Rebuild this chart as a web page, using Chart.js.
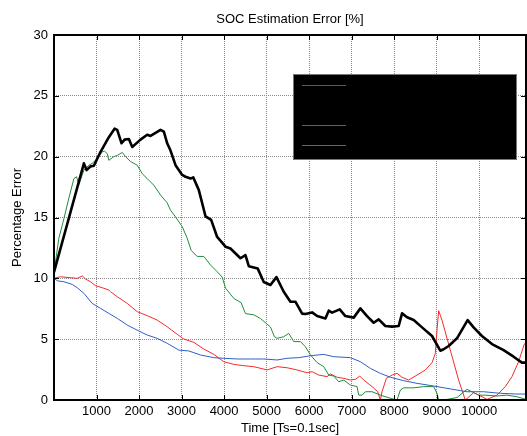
<!DOCTYPE html>
<html>
<head>
<meta charset="utf-8">
<script src="https://cdn.jsdelivr.net/npm/chart.js@4.4.1/dist/chart.umd.min.js"></script>
<style>
  html, body { margin: 0; padding: 0; background: #fff; }
</style>
</head>
<body>
<canvas id="socChart" width="527" height="436"></canvas>
<script>
// tick values
var xTicks = [1000, 2000, 3000, 4000, 5000, 6000, 7000, 8000, 9000, 10000];
var yTicks = [0, 5, 10, 15, 20, 25, 30];

// series names and colours (legend order)
var seriesNames = ['Error 1', 'Error 2', 'Error 3', 'Error 4'];
var seriesColors = ['#2f5fc4', '#000000', '#1f8c3b', '#f52a2a'];

// [time, error %]
var blueErr = [[0,10.0],[78,9.8],[233,9.72],[429,9.5],[546,9.23],[703,8.77],[899,7.94],[1095,7.53],[1290,7.12],[1487,6.71],[1722,6.16],[1995,5.67],[2192,5.34],[2427,5.07],[2662,4.66],[2936,4.1],[3171,4.03],[3445,3.7],[3758,3.48],[3993,3.43],[4307,3.37],[4620,3.37],[4933,3.37],[5247,3.29],[5482,3.43],[5755,3.48],[6030,3.64],[6343,3.75],[6578,3.56],[6970,3.48],[7205,3.15],[7440,2.6],[7675,2.19],[7910,1.87],[8223,1.59],[8537,1.37],[8929,1.15],[9242,0.96],[9555,0.77],[9712,0.68],[10103,0.68],[10495,0.55],[10887,0.49],[11100,0.49]];

var blackErr = [[0,10.5],[703,19.45],[766,18.9],[860,19.2],[938,19.25],[1095,20.4],[1290,21.6],[1424,22.3],[1487,22.2],[1589,21.1],[1660,21.4],[1761,21.45],[1840,20.8],[2035,21.4],[2192,21.8],[2270,21.7],[2505,22.2],[2583,22.05],[2662,21.1],[2740,20.5],[2858,19.3],[3015,18.5],[3093,18.35],[3210,18.2],[3274,18.3],[3406,17.25],[3563,15.1],[3696,14.8],[3837,13.4],[4033,12.6],[4150,12.45],[4385,11.65],[4503,11.9],[4581,11.0],[4792,10.8],[4933,9.7],[5090,9.45],[5231,10.1],[5403,8.9],[5560,8.08],[5677,8.08],[5835,7.1],[5913,7.07],[6070,7.2],[6188,6.9],[6383,6.7],[6461,7.34],[6540,7.18],[6719,7.45],[6853,6.9],[7048,6.77],[7205,7.53],[7362,6.9],[7518,6.35],[7636,6.63],[7793,6.08],[7950,6.03],[8106,6.08],[8185,7.12],[8303,6.8],[8459,6.57],[8655,5.97],[8890,5.26],[9085,4.05],[9163,4.17],[9281,4.44],[9477,5.07],[9727,6.57],[9868,5.97],[10064,5.26],[10300,4.6],[10573,4.1],[10808,3.56],[11004,3.07],[11100,3.07]];

var greenErr = [[0,10.5],[115,13.3],[233,14.9],[350,16.6],[468,18.2],[531,18.35],[585,17.7],[625,18.1],[703,18.9],[820,19.3],[899,19.45],[1017,19.85],[1134,20.4],[1189,20.45],[1252,20.25],[1290,19.7],[1408,20.0],[1487,20.1],[1605,20.35],[1683,20.0],[1800,19.6],[1957,19.3],[2075,18.6],[2192,18.2],[2348,17.65],[2505,16.85],[2662,16.2],[2740,15.6],[2858,15.05],[3015,14.25],[3132,13.3],[3226,12.3],[3367,11.8],[3523,11.8],[3680,11.1],[3837,10.55],[3955,10.1],[4033,9.2],[4228,8.35],[4400,8.0],[4503,7.1],[4698,7.0],[4855,6.7],[5090,6.0],[5184,5.2],[5247,5.07],[5403,5.2],[5520,5.48],[5638,4.8],[5795,4.8],[5913,4.38],[6030,3.7],[6188,3.07],[6343,2.74],[6461,2.05],[6578,1.97],[6696,1.5],[6813,1.64],[6970,1.23],[7127,1.1],[7166,0.4],[7245,0.4],[7323,0.68],[7480,0.68],[7675,0.4],[7910,0.14],[8067,0],[8145,0.82],[8223,1.0],[8459,1.0],[8694,1.1],[8929,1.1],[9007,0.55],[9046,0],[9242,0.05],[9477,0.2],[9712,0.88],[9830,0.68],[9986,0.4],[10143,0.4],[10418,0.33],[10652,0.4],[10887,0.27],[11100,0.05]];

var redErr = [[0,10.0],[155,10.13],[390,10.05],[546,10.0],[665,10.2],[742,9.94],[860,9.72],[978,9.39],[1134,9.23],[1290,9.04],[1330,8.9],[1487,8.49],[1722,7.94],[1957,7.26],[2192,6.93],[2427,6.57],[2662,6.02],[2897,5.4],[3053,5.01],[3288,4.74],[3523,4.19],[3758,3.75],[3993,3.15],[4228,2.93],[4463,2.82],[4698,2.74],[5012,2.47],[5247,2.74],[5482,2.65],[5717,2.47],[5952,2.24],[6070,2.33],[6226,2.05],[6422,1.92],[6500,2.14],[6657,1.87],[6813,1.78],[6970,1.64],[7088,1.7],[7189,1.97],[7283,1.64],[7480,1.1],[7612,0.68],[7675,0],[7714,0.68],[7816,1.78],[7950,2.05],[8067,2.19],[8185,1.87],[8341,1.64],[8537,2.05],[8733,2.47],[8890,3.07],[8968,3.83],[9007,5.75],[9046,7.34],[9124,6.57],[9320,4.1],[9515,1.64],[9672,0],[9868,0.6],[10064,0.27],[10182,0.05],[10418,0.4],[10613,1.1],[10770,1.92],[10926,3.15],[11060,4.6],[11100,4.7]];

function pts(arr) {
    return arr.map(function (p) { return { x: p[0], y: p[1] }; });
}

Chart.defaults.font.family = '"Liberation Sans", Arial, sans-serif';
Chart.defaults.font.size = 13;
Chart.defaults.color = '#000';

// matlab-ish frame, title, inner ticks and the black legend box
var matlabLook = {
    id: 'matlabLook',
    afterDatasetsDraw: function (chart) {
        var c = chart.ctx, a = chart.chartArea;
        var xs = chart.scales.x, ys = chart.scales.y;
        c.save();

        // inner tick marks
        c.strokeStyle = '#000';
        c.lineWidth = 1;
        c.beginPath();
        xTicks.forEach(function (v) {
            var px = Math.round(xs.getPixelForValue(v)) + 0.5;
            c.moveTo(px, a.top); c.lineTo(px, a.top + 5);
            c.moveTo(px, a.bottom); c.lineTo(px, a.bottom - 5);
        });
        yTicks.forEach(function (v) {
            var py = Math.round(ys.getPixelForValue(v)) + 0.5;
            c.moveTo(a.left, py); c.lineTo(a.left + 5, py);
            c.moveTo(a.right, py); c.lineTo(a.right - 5, py);
        });
        c.stroke();

        // legend box (labels are black on black in the original)
        var bx = a.right - 233, by = a.top + 39, bw = 223, bh = 85;
        c.fillStyle = '#000';
        c.fillRect(bx, by, bw, bh);
        c.strokeStyle = '#777';
        c.lineWidth = 1;
        c.strokeRect(bx + 0.5, by + 0.5, bw, bh);
        seriesColors.forEach(function (col, i) {
            var ly = by + 11.5 + i * 20;
            c.beginPath();
            c.strokeStyle = col;
            c.lineWidth = 1.2;
            c.moveTo(bx + 9, ly);
            c.lineTo(bx + 53, ly);
            c.stroke();
        });

        // frame
        c.strokeStyle = '#000';
        c.lineWidth = 2;
        c.strokeRect(a.left, a.top, a.right - a.left, a.bottom - a.top);

        // title
        c.fillStyle = '#000';
        c.font = '13px "Liberation Sans", Arial, sans-serif';
        c.textAlign = 'center';
        c.textBaseline = 'middle';
        c.fillText('SOC Estimation Error [%]', (a.left + a.right) / 2, 19);
        c.restore();
    }
};

var ctx = document.getElementById('socChart').getContext('2d');
var socChart = new Chart(ctx, {
    type: 'line',
    data: {
        datasets: [
            { label: seriesNames[0], data: pts(blueErr), borderColor: seriesColors[0], borderWidth: 1 },
            { label: seriesNames[1], data: pts(blackErr), borderColor: seriesColors[1], borderWidth: 2.6 },
            { label: seriesNames[2], data: pts(greenErr), borderColor: seriesColors[2], borderWidth: 1 },
            { label: seriesNames[3], data: pts(redErr), borderColor: seriesColors[3], borderWidth: 1 }
        ]
    },
    options: {
        responsive: false,
        animation: false,
        layout: { padding: { top: 35, right: 1, left: 0, bottom: 0 } },
        elements: { point: { radius: 0 }, line: { tension: 0, borderJoinStyle: 'round' } },
        plugins: {
            legend: { display: false },
            tooltip: { enabled: false }
        },
        scales: {
            x: {
                type: 'linear',
                min: 0,
                max: 11100,
                afterBuildTicks: function (s) { s.ticks = xTicks.map(function (v) { return { value: v }; }); },
                afterFit: function (s) { s.height = 36; },
                ticks: { padding: 4, maxRotation: 0, autoSkip: false, callback: function (v) { return String(v); } },
                grid: { color: '#8a8a8a', drawTicks: false },
                border: { display: false, dash: [1, 1] },
                title: { display: true, text: 'Time [Ts=0.1sec]', padding: { top: 0, bottom: 0 } }
            },
            y: {
                min: 0,
                max: 30,
                afterBuildTicks: function (s) { s.ticks = yTicks.map(function (v) { return { value: v }; }); },
                afterFit: function (s) { s.width = 54; },
                ticks: { padding: 6 },
                grid: { color: '#8a8a8a', drawTicks: false },
                border: { display: false, dash: [1, 1] },
                title: { display: true, text: 'Percentage Error', padding: { top: 10, bottom: 0 } }
            }
        }
    },
    plugins: [matlabLook]
});
</script>
</body>
</html>
